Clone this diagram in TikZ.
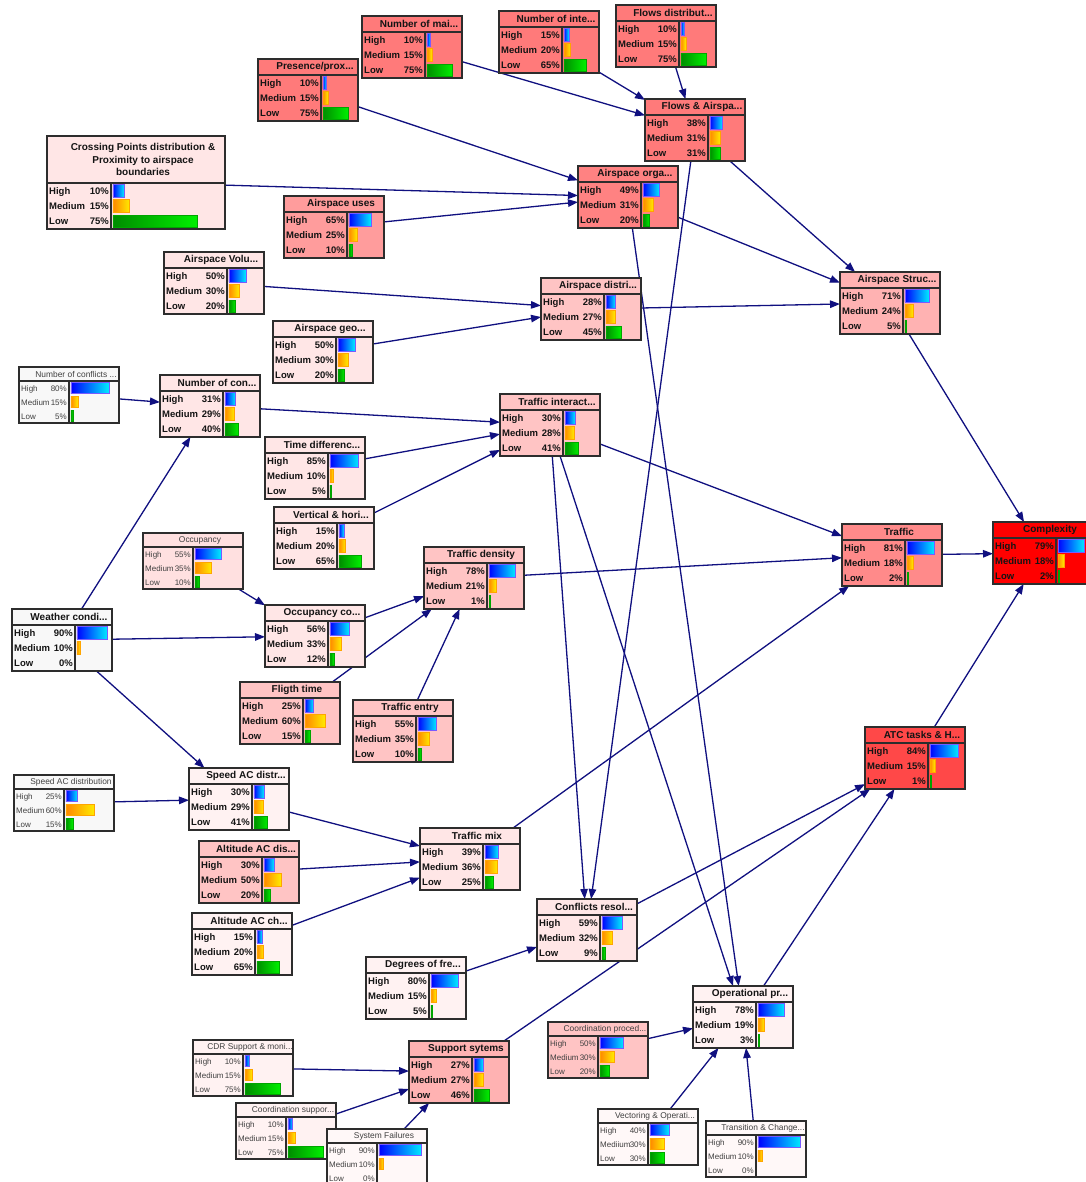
\documentclass[tikz,border=0pt]{standalone}
\usepackage{fontspec}
\setmainfont{Liberation Sans}
\usetikzlibrary{arrows.meta}
\pgfdeclarelayer{back}
\pgfdeclarelayer{bg}
\pgfsetlayers{back,bg,main}

\definecolor{navyc}{RGB}{16,16,128}
\definecolor{bordc}{RGB}{45,45,45}
\definecolor{cS}{RGB}{255,122,122}
\definecolor{cSb}{RGB}{255,130,130}
\definecolor{cU}{RGB}{255,156,156}
\definecolor{cT}{RGB}{255,138,138}
\definecolor{cMS}{RGB}{255,178,178}
\definecolor{cM}{RGB}{255,196,196}
\definecolor{cL}{RGB}{255,230,230}
\definecolor{cLb}{RGB}{255,224,224}
\definecolor{cVL}{RGB}{255,242,242}
\definecolor{cVLb}{RGB}{255,248,248}
\definecolor{cW}{RGB}{248,248,248}
\definecolor{cA}{RGB}{255,72,72}
\definecolor{cC}{RGB}{255,0,0}
\definecolor{hiL}{RGB}{0,0,255}
\definecolor{hiR}{RGB}{0,235,255}
\definecolor{hiD}{RGB}{120,90,255}
\definecolor{mdL}{RGB}{255,135,0}
\definecolor{mdR}{RGB}{255,235,0}
\definecolor{mdD}{RGB}{255,165,0}
\definecolor{loL}{RGB}{0,140,0}
\definecolor{loR}{RGB}{0,240,0}
\definecolor{loD}{RGB}{0,165,0}

\tikzset{
  x=1pt, y=-1pt,
  boxshape/.style={draw=bordc, line width=1.4pt, inner sep=0pt, outer sep=0pt, rectangle},
  boxline/.style={draw=bordc, line width=1.4pt},
  conn/.style={draw=navyc, line width=1.3pt, -{Triangle[length=10pt,width=7.5pt]}},
  lblA/.style={inner sep=0pt, font=\fontsize{9.5}{11}\selectfont\bfseries, text=black!92},
  ttlA/.style={inner sep=0pt, font=\fontsize{10}{12.7}\selectfont\bfseries, text=black!92, align=center},
  lblB/.style={inner sep=0pt, font=\fontsize{8}{10}\selectfont, text=black!75},
  ttlB/.style={inner sep=0pt, font=\fontsize{8.4}{10}\selectfont, text=black!75, align=center},
  hibar/.style={left color=hiL, right color=hiR, draw=hiD, line width=0.6pt},
  mdbar/.style={left color=mdL, right color=mdR, draw=mdD, line width=0.6pt},
  lobar/.style={left color=loL, right color=loR, draw=loD, line width=0.6pt},
}

\newcommand\cfgA{\def\bxW{100}\def\bxH{62}\def\bxT{16}\def\bxD{63}\def\bxR{15.33}\def\bxBM{34}\def\bxBH{12.5}\def\bxBL{3.5}%
  \tikzset{lbl/.style={lblA}, ttl/.style={ttlA}}}
\newcommand\cfgX{\def\bxW{178}\def\bxH{93}\def\bxT{47}\def\bxD{64}\def\bxR{15.33}\def\bxBM{113}\def\bxBH{12.5}\def\bxBL{3.5}%
  \tikzset{lbl/.style={lblA}, ttl/.style={ttlA}}}
\newcommand\cfgB{\def\bxW{100}\def\bxH{56}\def\bxT{14}\def\bxD{50}\def\bxR{14}\def\bxBM{47.5}\def\bxBH{11.5}\def\bxBL{3.0}%
  \tikzset{lbl/.style={lblB}, ttl/.style={ttlB}}}

\newcommand\brow[5]{%
  \pgfmathsetmacro\bxrc{\bxT+\bxR*(#2-0.5)}%
  \pgfmathsetmacro\bxrb{\bxrc+\bxBL}%
  \pgfmathsetmacro\bxpx{\bxD-2}%
  \node[lbl, anchor=base west] at ([xshift=2pt,yshift=-\bxrb pt]#1.north west) {#3};
  \node[lbl, anchor=base east] at ([xshift=\bxpx pt,yshift=-\bxrb pt]#1.north west) {#4\%};
  \ifnum#4>0
    \pgfmathsetmacro\bxbw{max(#4*\bxBM/100,1.3)}%
    \pgfmathsetmacro\bxbt{\bxrc-\bxBH/2}%
    \pgfmathsetmacro\bxbx{\bxD+1.8}%
    \path[#5] ([xshift=\bxbx pt,yshift=-\bxbt pt]#1.north west) rectangle ++(\bxbw pt,-\bxBH pt);
  \fi
}

\newcommand\mkbox[9]{%
  \node[boxshape, fill=#4, minimum width=\bxW pt, minimum height=\bxH pt, anchor=north west] (#1) at (#2,#3) {};
  \draw[boxline] ([yshift=-\bxT pt]#1.north west) -- ([yshift=-\bxT pt]#1.north east);
  \draw[boxline] ([xshift=\bxD pt,yshift=-\bxT pt]#1.north west) -- ([xshift=\bxD pt]#1.south west);
  \pgfmathsetmacro\bxtc{\bxT/2}%
  \node[ttl] at ([xshift=7pt,yshift=-\bxtc pt]#1.north) {#5};
  \brow{#1}{1}{High}{#6}{hibar}%
  \brow{#1}{2}{#9}{#7}{mdbar}%
  \brow{#1}{3}{Low}{#8}{lobar}%
}

\begin{document}
\begin{tikzpicture}
\useasboundingbox (0,0) rectangle (1085,1182);
\begin{pgfonlayer}{back}
\fill[white] (0,0) rectangle (1085,1182);
\end{pgfonlayer}

\cfgA
\mkbox{nmai}{362}{16}{cS}{Number of mai...}{10}{15}{75}{Medium}
\mkbox{ninte}{499}{11}{cS}{Number of inte...}{15}{20}{65}{Medium}
\mkbox{flowsd}{616}{5}{cS}{Flows distribut...}{10}{15}{75}{Medium}
\mkbox{pres}{258}{59}{cS}{Presence/prox...}{10}{15}{75}{Medium}
\mkbox{flowsa}{645}{99}{cS}{Flows \& Airspa...}{38}{31}{31}{Medium}
\mkbox{aorg}{578}{166}{cSb}{Airspace orga...}{49}{31}{20}{Medium}
\mkbox{auses}{284}{196}{cU}{Airspace uses}{65}{25}{10}{Medium}
\mkbox{avol}{164}{252}{cL}{Airspace Volu...}{50}{30}{20}{Medium}
\mkbox{ageo}{273}{321}{cL}{Airspace geo...}{50}{30}{20}{Medium}
\mkbox{adist}{541}{278}{cM}{Airspace distri...}{28}{27}{45}{Medium}
\mkbox{astruc}{840}{272}{cMS}{Airspace Struc...}{71}{24}{5}{Medium}
\mkbox{ncon}{160}{375}{cL}{Number of con...}{31}{29}{40}{Medium}
\mkbox{tdiff}{265}{437}{cL}{Time differenc...}{85}{10}{5}{Medium}
\mkbox{vert}{274}{507}{cL}{Vertical \& hori...}{15}{20}{65}{Medium}
\mkbox{tint}{500}{394}{cM}{Traffic interact...}{30}{28}{41}{Medium}
\mkbox{occco}{265}{605}{cL}{Occupancy co...}{56}{33}{12}{Medium}
\mkbox{tdens}{424}{547}{cM}{Traffic density}{78}{21}{1}{Medium}
\mkbox{weather}{12}{609}{cW}{Weather condi...}{90}{10}{0}{Medium}
\mkbox{fligth}{240}{682}{cM}{Fligth time}{25}{60}{15}{Medium}
\mkbox{tentry}{353}{700}{cM}{Traffic entry}{55}{35}{10}{Medium}
\mkbox{traffic}{842}{524}{cT}{Traffic}{81}{18}{2}{Medium}
\mkbox{complexity}{993}{522}{cC}{Complexity}{79}{18}{2}{Medium}
\mkbox{atc}{865}{727}{cA}{ATC tasks \& H...}{84}{15}{1}{Medium}
\mkbox{speedd}{189}{768}{cVL}{Speed AC distr...}{30}{29}{41}{Medium}
\mkbox{altdis}{199}{841}{cM}{Altitude AC dis...}{30}{50}{20}{Medium}
\mkbox{altch}{192}{913}{cVL}{Altitude AC ch...}{15}{20}{65}{Medium}
\mkbox{tmix}{420}{828}{cL}{Traffic mix}{39}{36}{25}{Medium}
\mkbox{confl}{537}{899}{cL}{Conflicts resol...}{59}{32}{9}{Medium}
\mkbox{degr}{366}{957}{cVL}{Degrees of fre...}{80}{15}{5}{Medium}
\mkbox{supp}{409}{1041}{cMS}{Support sytems}{27}{27}{46}{Medium}
\mkbox{oper}{693}{986}{cVL}{Operational pr...}{78}{19}{3}{Medium}

\cfgX
\mkbox{cross}{47}{136}{cL}{Crossing Points distribution \&\\Proximity to airspace\\boundaries}{10}{15}{75}{Medium}

\cfgB
\mkbox{ncb}{19}{367}{cW}{Number of conflicts ...}{80}{15}{5}{Medium}
\mkbox{occ}{143}{533}{cLb}{Occupancy}{55}{35}{10}{Medium}
\mkbox{speedb}{14}{775}{cW}{Speed AC distribution}{25}{60}{15}{Medium}
\mkbox{cdr}{193}{1040}{cVL}{CDR Support \& moni...}{10}{15}{75}{Medium}
\mkbox{coords}{236}{1103}{cVL}{Coordination suppor...}{10}{15}{75}{Medium}
\mkbox{sysf}{327}{1129}{cVLb}{System Failures}{90}{10}{0}{Medium}
\mkbox{coordp}{548}{1022}{cM}{Coordination proced...}{50}{30}{20}{Medium}
\mkbox{vect}{598}{1109}{cVLb}{Vectoring \& Operati...}{40}{30}{30}{Mediium}
\mkbox{trans}{706}{1121}{cVLb}{Transition \& Change...}{90}{10}{0}{Medium}

\begin{pgfonlayer}{bg}
\foreach \a/\b in {nmai/flowsa, ninte/flowsa, flowsd/flowsa, pres/aorg, cross/aorg, auses/aorg,
  flowsa/astruc, aorg/astruc, avol/adist, ageo/adist, adist/astruc, astruc/complexity,
  flowsa/confl, aorg/oper, ncb/ncon, weather/ncon, ncon/tint, tdiff/tint, vert/tint,
  tint/traffic, tint/confl, tint/oper, occ/occco, weather/occco, occco/tdens, fligth/tdens,
  tentry/tdens, tdens/traffic, weather/speedd, speedb/speedd, speedd/tmix, altdis/tmix,
  altch/tmix, tmix/traffic, degr/confl, confl/atc, supp/atc, oper/atc, atc/complexity,
  traffic/complexity, cdr/supp, coords/supp, sysf/supp, coordp/oper, vect/oper, trans/oper}
  \draw[conn] (\a) -- (\b);
\end{pgfonlayer}
\end{tikzpicture}
\end{document}
